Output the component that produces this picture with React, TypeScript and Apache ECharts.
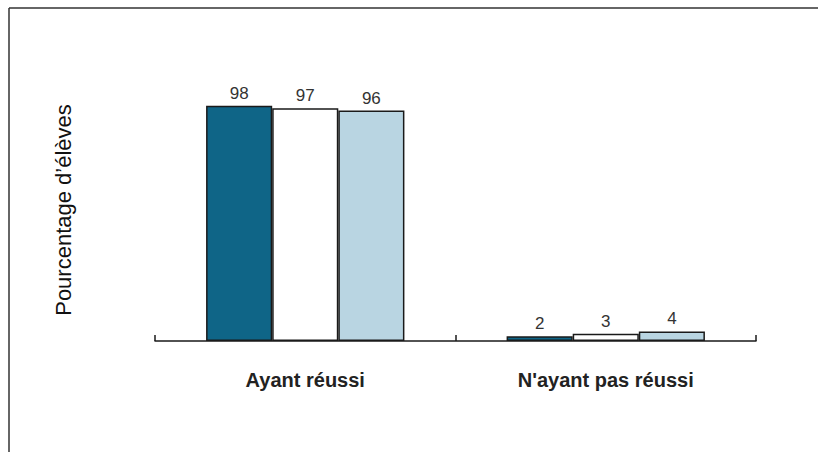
import React, { useEffect, useRef } from "react";
import * as echarts from "echarts";

const categories = ["Ayant réussi", "N'ayant pas réussi"];
const seriesA = [98, 2];
const seriesB = [97, 3];
const seriesC = [96, 4];
const seriesColors = ["#0f6587", "#ffffff", "#b9d5e2"];
const yAxisName = "Pourcentage d’élèves";

const FONT = "Liberation Sans, Arial, sans-serif";

export default function App() {
  const ref = useRef<HTMLDivElement>(null);
  useEffect(() => {
    document.body.style.margin = "0";
    const chart = echarts.init(ref.current!, null, { renderer: "svg" });
    const mk = (data: number[], color: string) => ({
      type: "bar",
      data,
      barGap: "0%",
      barCategoryGap: "34%",
      itemStyle: { color, borderColor: "#1a1a1a", borderWidth: 1.5 },
      label: {
        show: true,
        position: "top",
        distance: 4,
        fontSize: 17,
        fontFamily: FONT,
        color: "#333",
      },
    });
    chart.setOption({
      animation: false,
      backgroundColor: "#ffffff",
      grid: { left: 155, right: 63, top: 101, bottom: 111 },
      xAxis: {
        type: "category",
        data: categories,
        axisLine: { lineStyle: { color: "#1a1a1a", width: 1.5 } },
        axisTick: { show: true, inside: true, length: 6, lineStyle: { color: "#1a1a1a", width: 1.5 } },
        axisLabel: {
          margin: 29,
          fontSize: 20,
          fontWeight: "bold",
          fontFamily: FONT,
          color: "#222",
        },
      },
      yAxis: {
        type: "value",
        min: 0,
        max: 100,
        show: false,
      },
      graphic: [
        { type: "line", shape: { x1: 9, y1: 8, x2: 818, y2: 8 }, style: { stroke: "#333", lineWidth: 1.5 } },
        { type: "line", shape: { x1: 9, y1: 8, x2: 9, y2: 452 }, style: { stroke: "#333", lineWidth: 1.5 } },
        {
          type: "text",
          x: 63,
          y: 210,
          rotation: Math.PI / 2,
          style: {
            text: yAxisName,
            fontSize: 22,
            fontFamily: FONT,
            fill: "#111",
            align: "center",
            verticalAlign: "middle",
          },
        },
      ],
      series: [mk(seriesA, seriesColors[0]), mk(seriesB, seriesColors[1]), mk(seriesC, seriesColors[2])],
    });
    return () => chart.dispose();
  }, []);
  return <div ref={ref} style={{ position: "absolute", left: 0, top: 0, width: 819, height: 452 }} />;
}
